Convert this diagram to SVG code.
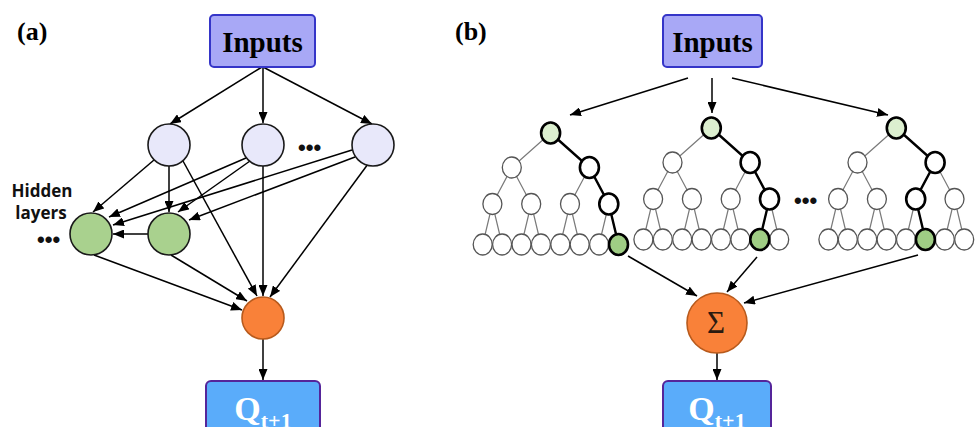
<svg xmlns="http://www.w3.org/2000/svg" xmlns:xlink="http://www.w3.org/1999/xlink" width="977" height="427" viewBox="0 0 977 427">
  <style>
    .panel { font-family: "Liberation Serif", "Times New Roman", serif; font-weight: bold; font-size: 26px; fill: #000; }
    .boxIn { fill: #a8a8f6; stroke: #3535c8; stroke-width: 2; }
    .boxQ { fill: #5aacfa; stroke: #55259a; stroke-width: 2; }
    .lblIn { font-family: "Liberation Serif", "Times New Roman", serif; font-weight: bold; font-size: 29px; fill: #000; text-anchor: middle; }
    .lblQ { font-family: "Liberation Serif", "Times New Roman", serif; font-weight: bold; font-size: 34px; fill: #fff; text-anchor: middle; }
    .inNode { fill: #e8e8fa; stroke: #1a1a1a; stroke-width: 1.6; }
    .hidNode { fill: #a9d18e; stroke: #1a1a1a; stroke-width: 1.6; }
    .outNode { fill: #f98139; stroke: #b85a1c; stroke-width: 1.6; }
    .side { font-family: "Open Sans", "Liberation Sans", sans-serif; font-weight: 700; font-size: 17px; fill: #111; text-anchor: middle; }
    .dots { font-family: "Liberation Sans", Arial, sans-serif; font-weight: bold; font-size: 22px; fill: #111; }
    .arrow { fill: none; stroke: #000; stroke-width: 1.5; marker-end: url(#head); }
    .tEdge { stroke: #7a7a7a; stroke-width: 1.2; fill: none; }
    .tNode { fill: #fff; stroke: #555; stroke-width: 1.3; }
    .hlEdge { stroke: #000; stroke-width: 2.4; fill: none; }
    .hlNode { fill: #fff; stroke: #000; stroke-width: 2.6; }
    .hlRoot { fill: #dcefcf; stroke: #000; stroke-width: 2.6; }
    .hlLeaf { fill: #9fcd84; stroke: #000; stroke-width: 2.6; }
  </style>
  <defs>
    <marker id="head" markerUnits="userSpaceOnUse" markerWidth="11" markerHeight="9" refX="11" refY="4.5" orient="auto">
      <path d="M0,0 L11,4.5 L0,9 z" fill="#000"/>
    </marker>
    <!-- binary tree of depth 3, root at origin -->
    <g id="tree">
      <path class="tEdge" d="M0,0 L-38.8,34.5 M0,0 L38.8,34.5
        M-38.8,34.5 L-58.2,71 M-38.8,34.5 L-19.4,71 M38.8,34.5 L19.4,71 M38.8,34.5 L58.2,71
        M-58.2,71 L-67.9,111.5 M-58.2,71 L-48.5,111.5 M-19.4,71 L-29.1,111.5 M-19.4,71 L-9.7,111.5
        M19.4,71 L9.7,111.5 M19.4,71 L29.1,111.5 M58.2,71 L48.5,111.5 M58.2,71 L67.9,111.5"/>
      <ellipse class="tNode" cx="0" cy="0" rx="9.5" ry="10.5"/>
      <ellipse class="tNode" cx="-38.8" cy="34.5" rx="9.5" ry="10.5"/>
      <ellipse class="tNode" cx="38.8" cy="34.5" rx="9.5" ry="10.5"/>
      <ellipse class="tNode" cx="-58.2" cy="71" rx="9.5" ry="10.5"/>
      <ellipse class="tNode" cx="-19.4" cy="71" rx="9.5" ry="10.5"/>
      <ellipse class="tNode" cx="19.4" cy="71" rx="9.5" ry="10.5"/>
      <ellipse class="tNode" cx="58.2" cy="71" rx="9.5" ry="10.5"/>
      <ellipse class="tNode" cx="-67.9" cy="111.5" rx="9.5" ry="10.5"/>
      <ellipse class="tNode" cx="-48.5" cy="111.5" rx="9.5" ry="10.5"/>
      <ellipse class="tNode" cx="-29.1" cy="111.5" rx="9.5" ry="10.5"/>
      <ellipse class="tNode" cx="-9.7" cy="111.5" rx="9.5" ry="10.5"/>
      <ellipse class="tNode" cx="9.7" cy="111.5" rx="9.5" ry="10.5"/>
      <ellipse class="tNode" cx="29.1" cy="111.5" rx="9.5" ry="10.5"/>
      <ellipse class="tNode" cx="48.5" cy="111.5" rx="9.5" ry="10.5"/>
      <ellipse class="tNode" cx="67.9" cy="111.5" rx="9.5" ry="10.5"/>
    </g>
  </defs>

  <rect width="977" height="427" fill="#fff"/>

  <!-- ===== (a) neural network ===== -->
  <text class="panel" x="17" y="40">(a)</text>

  <g id="a-connectors">
    <path class="arrow" d="M262,67 L170,124"/>
    <path class="arrow" d="M263,67 L263,123"/>
    <path class="arrow" d="M263,67 L372,124"/>
    <path class="arrow" d="M154,160 L93,212"/>
    <path class="arrow" d="M169,166 L169,212"/>
    <path class="arrow" d="M183,161 L257,296"/>
    <path class="arrow" d="M246,158 L109,217"/>
    <path class="arrow" d="M250,161 L178,212"/>
    <path class="arrow" d="M263,166 L263,296"/>
    <path class="arrow" d="M352,150 L113,225"/>
    <path class="arrow" d="M355,157 L189,220"/>
    <path class="arrow" d="M368,164 L270,297"/>
    <path class="arrow" d="M148,234 L113,234"/>
    <path class="arrow" d="M94,255 L242,310"/>
    <path class="arrow" d="M171,255 L247,301"/>
    <path class="arrow" d="M263,339 L263,380"/>
  </g>

  <g id="a-inputs">
    <rect class="boxIn" x="210" y="15" width="105" height="52" rx="4"/>
    <text class="lblIn" x="262.5" y="52">Inputs</text>
  </g>
  <g id="a-in1"><circle class="inNode" cx="169" cy="145" r="21"/></g>
  <g id="a-in2"><circle class="inNode" cx="263" cy="145" r="21"/></g>
  <g id="a-in3"><circle class="inNode" cx="373" cy="145" r="21"/></g>
  <text class="dots" x="298" y="155">•••</text>

  <g id="a-hid1"><circle class="hidNode" cx="91" cy="234" r="21"/></g>
  <g id="a-hid2"><circle class="hidNode" cx="169" cy="234" r="21"/></g>
  <g id="a-hidden-label">
    <text class="side" x="42" y="197">Hidden</text>
    <text class="side" x="41" y="219">layers</text>
    <text class="dots" x="37" y="247">•••</text>
  </g>

  <g id="a-out"><circle class="outNode" cx="263" cy="318" r="21"/></g>
  <g id="a-q">
    <rect class="boxQ" x="206" y="381" width="114" height="70" rx="5"/>
    <text class="lblQ" x="263" y="420">Q<tspan font-size="22" dy="8">t+1</tspan></text>
  </g>

  <!-- ===== (b) tree ensemble ===== -->
  <text class="panel" x="455" y="40">(b)</text>

  <g id="b-trees">
    <g id="tree1" transform="translate(550.6,133)">
      <use xlink:href="#tree" href="#tree"/>
      <path class="hlEdge" d="M0,0 L38.8,34.5 L58.2,71 L67.9,111.5"/>
      <ellipse class="hlRoot" cx="0" cy="0" rx="9.5" ry="10.5"/>
      <ellipse class="hlNode" cx="38.8" cy="34.5" rx="9.5" ry="10.5"/>
      <ellipse class="hlNode" cx="58.2" cy="71" rx="9.5" ry="10.5"/>
      <ellipse class="hlLeaf" cx="67.9" cy="111.5" rx="9.5" ry="10.5"/>
    </g>
    <g id="tree2" transform="translate(711.3,128)">
      <use xlink:href="#tree" href="#tree"/>
      <path class="hlEdge" d="M0,0 L38.8,34.5 L58.2,71 L48.5,111.5"/>
      <ellipse class="hlRoot" cx="0" cy="0" rx="9.5" ry="10.5"/>
      <ellipse class="hlNode" cx="38.8" cy="34.5" rx="9.5" ry="10.5"/>
      <ellipse class="hlNode" cx="58.2" cy="71" rx="9.5" ry="10.5"/>
      <ellipse class="hlLeaf" cx="48.5" cy="111.5" rx="9.5" ry="10.5"/>
    </g>
    <g id="tree3" transform="translate(896.3,128)">
      <use xlink:href="#tree" href="#tree"/>
      <path class="hlEdge" d="M0,0 L38.8,34.5 L19.4,71 L29.1,111.5"/>
      <ellipse class="hlRoot" cx="0" cy="0" rx="9.5" ry="10.5"/>
      <ellipse class="hlNode" cx="38.8" cy="34.5" rx="9.5" ry="10.5"/>
      <ellipse class="hlNode" cx="19.4" cy="71" rx="9.5" ry="10.5"/>
      <ellipse class="hlLeaf" cx="29.1" cy="111.5" rx="9.5" ry="10.5"/>
    </g>
    <text class="dots" x="794" y="208">•••</text>
  </g>

  <g id="b-connectors">
    <path class="arrow" d="M688,78 L570,115"/>
    <path class="arrow" d="M712,78 L712,113"/>
    <path class="arrow" d="M732,78 L888,115"/>
    <path class="arrow" d="M628,256 L697,296"/>
    <path class="arrow" d="M757,257 L727,292"/>
    <path class="arrow" d="M918,255 L744,303"/>
    <path class="arrow" d="M717,353 L717,380"/>
  </g>

  <g id="b-inputs">
    <rect class="boxIn" x="663" y="15" width="99" height="52" rx="4"/>
    <text class="lblIn" x="712.5" y="52">Inputs</text>
  </g>
  <g id="b-sum">
    <circle class="outNode" cx="717" cy="323" r="30"/>
    <text x="716" y="333" font-family="'Liberation Serif', 'Times New Roman', serif" font-size="31" fill="#2a1a10" text-anchor="middle">Σ</text>
  </g>
  <g id="b-q">
    <rect class="boxQ" x="663" y="381" width="108" height="70" rx="5"/>
    <text class="lblQ" x="717" y="420">Q<tspan font-size="22" dy="8">t+1</tspan></text>
  </g>
</svg>
